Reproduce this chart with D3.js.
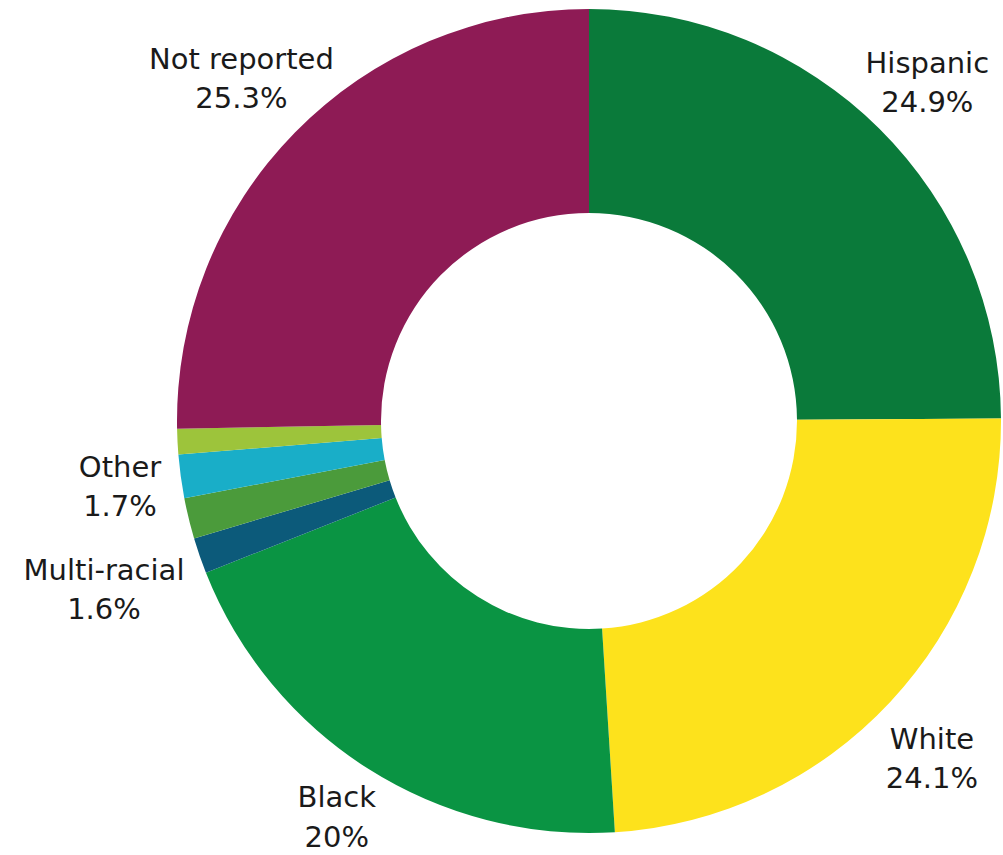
<!DOCTYPE html>
<html>
<head>
<meta charset="utf-8">
<script src="https://cdn.jsdelivr.net/npm/d3@7"></script>
<style>
html,body{margin:0;padding:0;background:#fff;}
svg{display:block;}
text{font-family:"DejaVu Sans",sans-serif;fill:#1a1a1a;}
</style>
</head>
<body>
<svg id="chart" width="1003" height="855"></svg>
<script>
const categories = ["Hispanic","White","Black","Multi-racial","Two or more","Other","Asian","Not reported"];
const values = [24.9, 24.1, 20.0, 1.4, 1.6, 1.7, 1.0, 25.3];
const labels = ["24.9%","24.1%","20%","1.6%","","1.7%","","25.3%"];
const labelNames = ["Hispanic","White","Black","Multi-racial","","Other","","Not reported"];
const colors = ["#0a7a3a","#fde21c","#0a9443","#0c5a7a","#4b9b3b","#19aec8","#9dc43b","#8e1b55"];

const svg = d3.select("#chart");
const cx = 589, cy = 421, rOuter = 412, rInner = 208;
const g = svg.append("g").attr("transform", `translate(${cx},${cy})`);

const pie = d3.pie().sort(null).value(d => d)(values);
const arc = d3.arc().innerRadius(rInner).outerRadius(rOuter);
const color = d3.scaleOrdinal().domain(categories).range(colors);

g.selectAll("path").data(pie).join("path")
  .attr("d", arc)
  .attr("fill", (d,i) => color(categories[i]));

// Label placement: big slices on an outer ring (with small nudges); small slices stacked at left
const labelArc = d3.arc().innerRadius(480).outerRadius(480);
const nudge = {0: [0, -2], 1: [-8, 6], 2: [5, -13], 7: [-5, -10]};
const manual = {3: [-485, 165], 5: [-469, 62]};
pie.forEach((d,i) => {
  if (!labelNames[i]) return;
  let x, y;
  if (manual[i]) { [x, y] = manual[i]; }
  else {
    [x, y] = labelArc.centroid(d);
    const n = nudge[i] || [0, 0];
    x += n[0]; y += n[1];
  }
  const t = g.append("text").attr("text-anchor","middle").attr("font-size",29)
    .attr("x", x).attr("y", y);
  t.append("tspan").attr("x", x).attr("dy", "-0.2em").text(labelNames[i]);
  t.append("tspan").attr("x", x).attr("dy", "1.35em").text(labels[i]);
});
</script>
</body>
</html>
